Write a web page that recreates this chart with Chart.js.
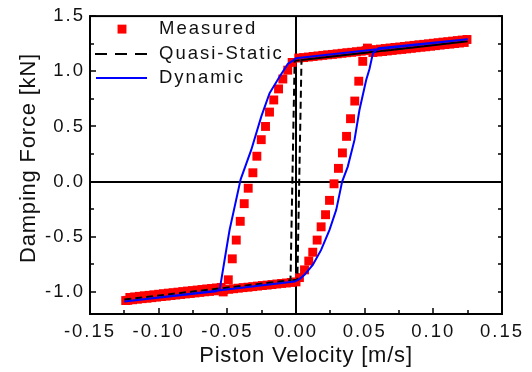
<!DOCTYPE html>
<html>
<head>
<meta charset="utf-8">
<script src="https://cdn.jsdelivr.net/npm/chart.js@4.4.1/dist/chart.umd.min.js"></script>
<style>
html, body { margin: 0; padding: 0; background: #fff; }
</style>
</head>
<body>
<canvas id="myChart" width="532" height="372"></canvas>
<script>
// tick labels
const xTicks = [-0.15, -0.10, -0.05, 0.00, 0.05, 0.10, 0.15];
const yTicks = [-1.0, -0.5, 0.0, 0.5, 1.0, 1.5];
const xTitle = 'Piston Velocity [m/s]';
const yTitle = 'Damping Force [kN]';

// Measured (red squares), in the order the loop is run
const measuredV = [
  // upper branch, going out
  0.002, 0.0055, 0.009, 0.0125, 0.016, 0.0195, 0.023, 0.0265, 0.030, 0.0335, 0.037, 0.0405, 0.044, 0.0475,
  0.051, 0.0545, 0.058, 0.0615, 0.065, 0.0685, 0.072, 0.0755, 0.079, 0.0825, 0.086, 0.0895, 0.093, 0.0965,
  0.100, 0.1035, 0.107, 0.1105, 0.114, 0.1175, 0.121, 0.1245,
  // upper branch, coming back
  0.1225, 0.119, 0.1155, 0.112, 0.1085, 0.105, 0.1015, 0.098, 0.0945, 0.091, 0.0875, 0.084, 0.0805, 0.077,
  0.0735, 0.070, 0.0665, 0.063, 0.0595, 0.056,
  // right branch
  0.052, 0.0486, 0.0457, 0.0428, 0.0397, 0.0368, 0.0338, 0.0309, 0.0277, 0.0244, 0.0215, 0.0183, 0.0154,
  0.0122, 0.0093, 0.0062, 0.0025,
  // lower branch, going out
  0.000, -0.0035, -0.007, -0.0105, -0.014, -0.0175, -0.021, -0.0245, -0.028, -0.0315, -0.035, -0.0385, -0.042,
  -0.0455, -0.049, -0.0525, -0.056, -0.0595, -0.063, -0.0665, -0.070, -0.0735, -0.077, -0.0805, -0.084, -0.0875,
  -0.091, -0.0945, -0.098, -0.1015, -0.105, -0.1085, -0.112, -0.1155, -0.119, -0.1225, -0.124,
  // lower branch, coming back
  -0.121, -0.1175, -0.114, -0.1105, -0.107, -0.1035, -0.100, -0.0965, -0.093, -0.0895, -0.086, -0.0825, -0.079,
  -0.0755, -0.072, -0.0685, -0.065, -0.0615, -0.058, -0.0545,
  // left branch
  -0.053, -0.0493, -0.0464, -0.0435, -0.0406, -0.0377, -0.0348, -0.0314, -0.0285, -0.0253, -0.0222, -0.0193,
  -0.0162, -0.0127, -0.0096, -0.0060, -0.0028
];
const measuredF = [
  1.120, 1.124, 1.129, 1.134, 1.139, 1.144, 1.149, 1.153, 1.158, 1.163, 1.168, 1.172, 1.177, 1.182,
  1.187, 1.192, 1.196, 1.201, 1.206, 1.211, 1.216, 1.220, 1.225, 1.230, 1.235, 1.240, 1.244, 1.249,
  1.254, 1.259, 1.264, 1.268, 1.273, 1.278, 1.283, 1.288,
  1.261, 1.256, 1.251, 1.246, 1.242, 1.237, 1.232, 1.227, 1.222, 1.218, 1.213, 1.208, 1.203, 1.198,
  1.194, 1.189, 1.184, 1.179, 1.175, 1.170,
  1.21, 1.09, 0.91, 0.73, 0.57, 0.41, 0.26, 0.12, -0.02, -0.17, -0.30, -0.41, -0.53,
  -0.64, -0.72, -0.80, -0.87,
  -0.909, -0.914, -0.919, -0.923, -0.928, -0.933, -0.938, -0.942, -0.947, -0.952, -0.957, -0.961, -0.966,
  -0.971, -0.976, -0.980, -0.985, -0.990, -0.995, -0.999, -1.004, -1.009, -1.014, -1.018, -1.023, -1.028,
  -1.033, -1.038, -1.042, -1.047, -1.052, -1.057, -1.061, -1.066, -1.071, -1.076, -1.078,
  -1.050, -1.045, -1.040, -1.035, -1.031, -1.026, -1.021, -1.016, -1.011, -1.007, -1.002, -0.997, -0.992,
  -0.988, -0.983, -0.978, -0.973, -0.969, -0.964, -0.959,
  -1.00, -0.89, -0.70, -0.53, -0.36, -0.20, -0.06, 0.08, 0.23, 0.38, 0.50, 0.63,
  0.74, 0.84, 0.93, 1.01, 1.08
];

// Quasi-Static (black dashed)
const quasiV = [-0.125, -0.004, -0.001, 0.004, 0.125, 0.004, 0.001, -0.004];
const quasiF = [-1.068, -0.895, 1.095, 1.102, 1.272, 1.102, -0.890, -0.895];

// Dynamic (blue)
const dynV = [-0.125, -0.058, -0.0555, -0.0508, -0.0484, -0.0403, -0.0326, -0.0253, -0.0193, -0.012, -0.006, -0.0023, 0.000, 0.125,
  0.060, 0.056, 0.0535, 0.0511, 0.0462, 0.0426, 0.0377, 0.0336, 0.0293, 0.0244, 0.0183, 0.0122, 0.0062, 0.0025, -0.001, -0.125];
const dynF = [-1.087, -0.995, -0.975, -0.62, -0.44, 0.02, 0.287, 0.589, 0.80, 0.951, 1.066, 1.096, 1.118, 1.29,
  1.208, 1.163, 1.02, 0.921, 0.649, 0.378, 0.136, 0.0, -0.256, -0.438, -0.619, -0.755, -0.845, -0.884, -0.906, -1.087];

const pts = (vs, fs) => vs.map((v, i) => ({x: v, y: fs[i]}));

const FONT = '"Liberation Sans", Arial, sans-serif';
const TXT = '#111';

const spacingPlugin = {
  id: 'spacing',
  beforeDraw(chart) { chart.ctx.letterSpacing = '2px'; }
};

// axis frame, zero lines and inward ticks
const framePlugin = {
  id: 'frame',
  beforeDatasetsDraw(chart) {
    const {ctx, chartArea: a, scales: {x, y}} = chart;
    ctx.save();
    ctx.strokeStyle = '#000';
    ctx.lineWidth = 2;
    ctx.beginPath();
    const x0 = Math.round(x.getPixelForValue(0)), y0 = Math.round(y.getPixelForValue(0));
    ctx.moveTo(x0, a.top); ctx.lineTo(x0, a.bottom);
    ctx.moveTo(a.left, y0); ctx.lineTo(a.right, y0);
    ctx.stroke();
    ctx.restore();
  },
  afterDatasetsDraw(chart) {
    const {ctx, chartArea: a, scales: {x, y}} = chart;
    ctx.save();
    ctx.strokeStyle = '#000';
    ctx.lineWidth = 2;
    ctx.strokeRect(a.left, a.top, a.right - a.left, a.bottom - a.top);
    ctx.lineWidth = 1.5;
    ctx.beginPath();
    xTicks.forEach((v, i) => {
      const px = Math.round(x.getPixelForValue(v));
      ctx.moveTo(px, a.bottom); ctx.lineTo(px, a.bottom - 6);
      if (i < xTicks.length - 1) {
        const mx = Math.round(x.getPixelForValue((v + xTicks[i + 1]) / 2));
        ctx.moveTo(mx, a.bottom); ctx.lineTo(mx, a.bottom - 4);
      }
    });
    yTicks.forEach((v, i) => {
      const py = Math.round(y.getPixelForValue(v));
      ctx.moveTo(a.left, py); ctx.lineTo(a.left + 6, py);
      ctx.moveTo(a.right, py); ctx.lineTo(a.right - 4, py);
      if (i < yTicks.length - 1) {
        const my = Math.round(y.getPixelForValue((v + yTicks[i + 1]) / 2));
        ctx.moveTo(a.left, my); ctx.lineTo(a.left + 4, my);
        ctx.moveTo(a.right, my); ctx.lineTo(a.right - 4, my);
      }
    });
    ctx.stroke();
    ctx.restore();
  }
};

// axis titles (not centred on the axes in the original)
const titlePlugin = {
  id: 'axisTitles',
  afterDraw(chart) {
    const ctx = chart.ctx;
    ctx.save();
    ctx.font = '22px ' + FONT;
    ctx.letterSpacing = '0.8px';
    ctx.fillStyle = TXT;
    ctx.textAlign = 'center';
    ctx.textBaseline = 'middle';
    ctx.fillText(xTitle, 306, 356);
    ctx.translate(29, 158);
    ctx.rotate(-Math.PI / 2);
    ctx.fillText(yTitle, 0, 0);
    ctx.restore();
  }
};

const legendPlugin = {
  id: 'innerLegend',
  afterDraw(chart) {
    const {ctx, chartArea: a} = chart;
    const ds = chart.data.datasets;
    const lx = a.left + 5, tx = a.left + 69;
    ctx.save();
    ctx.font = '18.5px ' + FONT;
    ctx.fillStyle = TXT;
    ctx.textBaseline = 'middle';
    ctx.letterSpacing = '2px';
    // measured
    let yy = a.top + 13;
    const side = ds[0].pointRadius * Math.SQRT2;
    ctx.fillStyle = ds[0].backgroundColor;
    ctx.fillRect(a.left + 32 - side / 2, yy - side / 2, side, side);
    ctx.fillStyle = TXT;
    ctx.fillText(ds[0].label, tx, yy);
    // quasi-static
    yy = a.top + 38;
    ctx.strokeStyle = ds[1].borderColor;
    ctx.lineWidth = ds[1].borderWidth;
    ctx.setLineDash([12, 8]);
    ctx.beginPath(); ctx.moveTo(lx, yy); ctx.lineTo(lx + 52, yy); ctx.stroke();
    ctx.setLineDash([]);
    ctx.fillText(ds[1].label, tx, yy);
    // dynamic
    yy = a.top + 62;
    ctx.strokeStyle = ds[2].borderColor;
    ctx.lineWidth = ds[2].borderWidth;
    ctx.beginPath(); ctx.moveTo(lx + 1, yy); ctx.lineTo(lx + 52, yy); ctx.stroke();
    ctx.fillText(ds[2].label, tx, yy);
    ctx.restore();
  }
};

new Chart(document.getElementById('myChart'), {
  type: 'scatter',
  data: {
    datasets: [{
      label: 'Measured',
      data: pts(measuredV, measuredF),
      showLine: false,
      pointStyle: 'rect',
      pointRadius: 6.3,
      pointBorderWidth: 0,
      backgroundColor: '#ff0000',
      borderColor: '#ff0000',
      order: 3
    }, {
      label: 'Quasi-Static',
      data: pts(quasiV, quasiF),
      showLine: true,
      pointRadius: 0,
      borderColor: '#000000',
      borderWidth: 2,
      borderDash: [7, 4],
      order: 2
    }, {
      label: 'Dynamic',
      data: pts(dynV, dynF),
      showLine: true,
      pointRadius: 0,
      borderColor: '#0000ff',
      borderWidth: 2,
      order: 1
    }]
  },
  options: {
    responsive: false,
    animation: false,
    devicePixelRatio: 1,
    layout: {padding: {left: 0, top: 16, right: 30, bottom: 0}},
    plugins: {
      legend: {display: false},
      tooltip: {enabled: false}
    },
    scales: {
      x: {
        type: 'linear',
        min: -0.15, max: 0.15,
        afterBuildTicks: s => { s.ticks = xTicks.map(v => ({value: v})); },
        afterFit: s => { s.height = 58; },
        grid: {display: false, drawTicks: false},
        border: {display: false},
        ticks: {
          padding: 7, autoSkip: false, maxRotation: 0,
          color: TXT, font: {family: FONT, size: 18.5},
          callback: v => v.toFixed(2)
        },
        title: {display: false}
      },
      y: {
        type: 'linear',
        min: -1.2, max: 1.5,
        afterBuildTicks: s => { s.ticks = yTicks.map(v => ({value: v})); },
        afterFit: s => { s.width = 90; },
        grid: {display: false, drawTicks: false},
        border: {display: false},
        ticks: {
          padding: 5, autoSkip: false,
          color: TXT, font: {family: FONT, size: 18.5},
          callback: v => v.toFixed(1)
        },
        title: {display: false}
      }
    }
  },
  plugins: [spacingPlugin, framePlugin, titlePlugin, legendPlugin]
});
</script>
</body>
</html>
